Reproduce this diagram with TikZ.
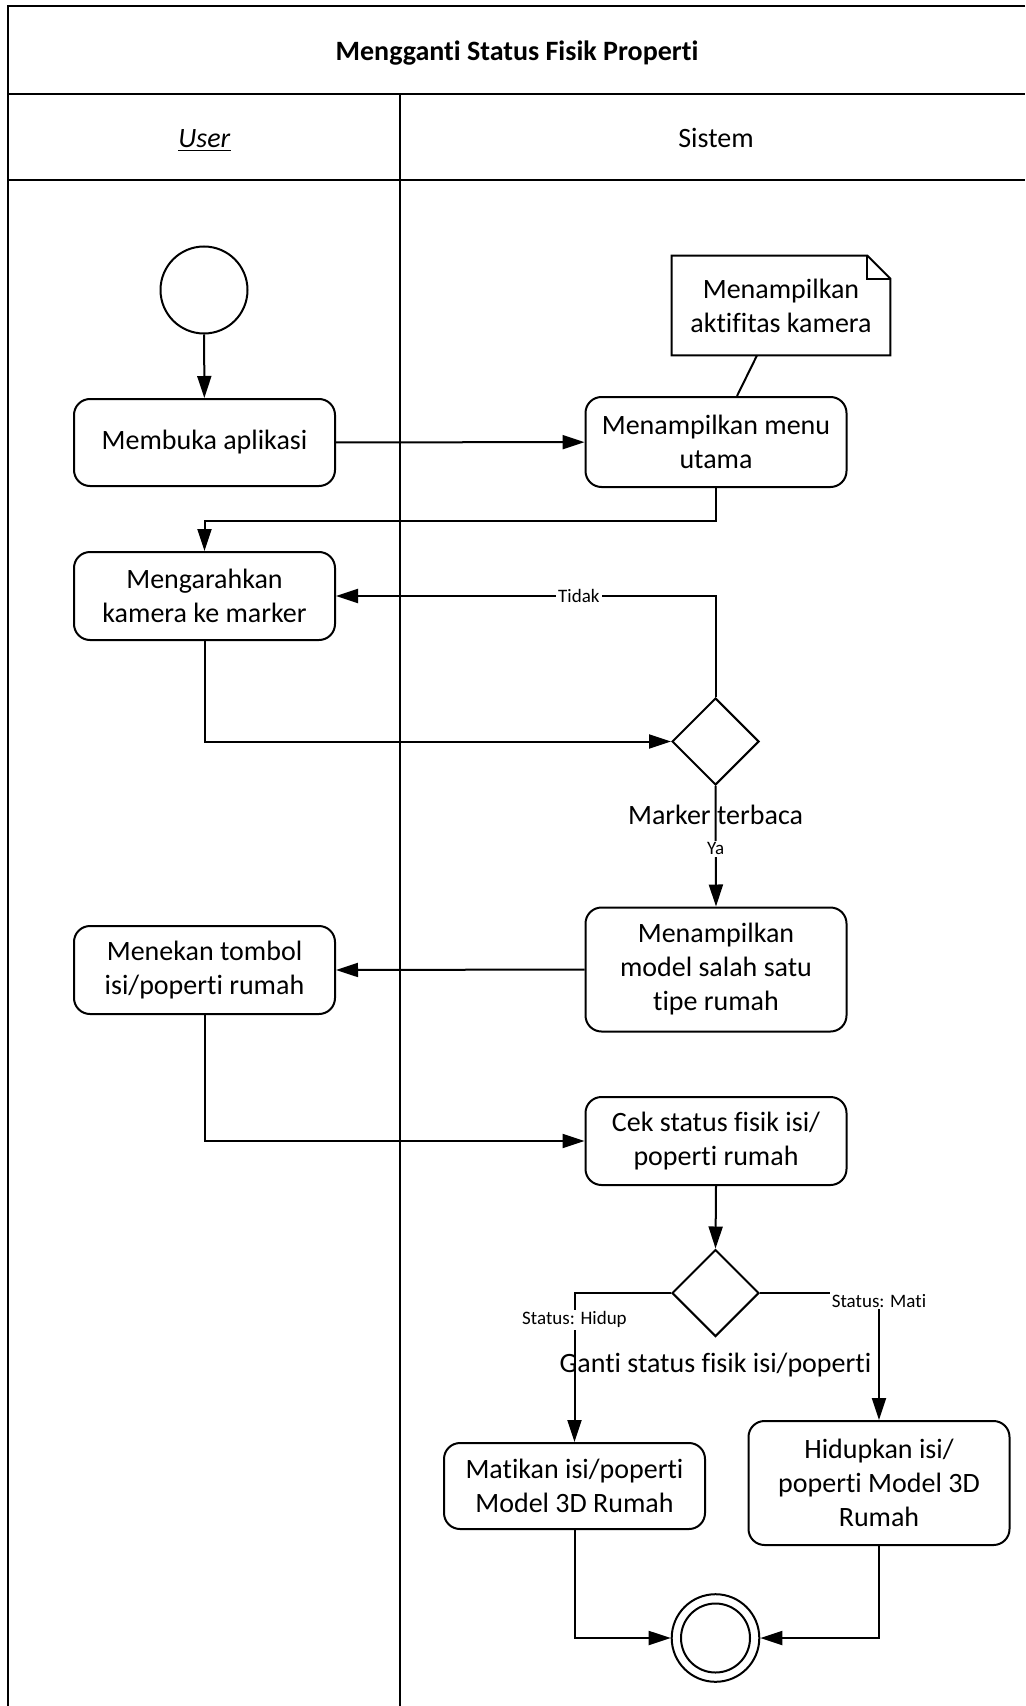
\documentclass[tikz,border=0pt]{standalone}
\usepackage{fontspec}
\setmainfont{Carlito}[Ligatures={NoCommon,NoRequired,NoContextual,NoRare},Contextuals={NoAlternate}]
\usetikzlibrary{shapes.geometric,arrows.meta,calc}

\begin{document}
\begin{tikzpicture}[x=0.5pt,y=-0.5pt,
  every node/.style={font=\fontsize{14pt}{17pt}\selectfont},
  frame/.style={line width=1.4pt},
  act/.style={draw,line width=1pt,rounded corners=8pt,minimum width=130.5pt,
    align=center,inner sep=0pt},
  dec/.style={draw,diamond,aspect=1,line width=1pt,minimum width=43.5pt,
    minimum height=43.5pt,inner sep=0pt},
  startnode/.style={draw,circle,line width=1pt,minimum size=43.5pt,inner sep=0pt},
  endnode/.style={draw,circle,line width=1pt,minimum size=43.8pt,inner sep=0pt},
  flow/.style={line width=1pt,-{Triangle[length=11pt,width=7pt]}},
  link/.style={line width=1pt},
  lbl/.style={font=\fontsize{9.5pt}{11pt}\selectfont,fill=white,inner sep=1pt},
  declbl/.style={font=\fontsize{14pt}{17pt}\selectfont,inner sep=0pt},
]
\useasboundingbox (0,0) rectangle (1025,1706);

% swimlane frame
\draw[frame] (1025,6) -- (8,6) -- (8,1706);
\draw[frame] (8,94) -- (1025,94);
\draw[frame] (8,180) -- (1025,180);
\draw[frame] (400,94) -- (400,1706);

\node[font=\bfseries\fontsize{14pt}{17pt}\selectfont] (title) at (517,53) {Mengganti Status Fisik Properti};
\node (laneuser) at (204.5,141) {\underline{\textit{User}}};
\node (lanesys) at (716,138) {Sistem};

% activities
\node[startnode] (start) at (204,290) {};
\node[act,minimum height=43.5pt] (open) at (204.5,442.5) {Membuka aplikasi};
\node[act,minimum height=45pt] (menu) at (716,442) {Menampilkan menu\\utama};
\node[align=center,minimum width=109pt,minimum height=49.5pt,inner sep=0pt] (note) at (781,305.5) {Menampilkan\\aktifitas kamera};
\node[act,minimum height=44pt] (aim) at (204.5,596) {Mengarahkan\\kamera ke marker};
\node[dec] (dec1) at (715.5,741.5) {};
\node[declbl] (dec1lbl) at (715.5,815) {Marker terbaca};
\node[act,minimum height=62pt] (model) at (716,969.5) {Menampilkan\\model salah satu\\tipe rumah};
\node[act,minimum height=44pt] (press) at (204.5,970) {Menekan tombol\\isi/poperti rumah};
\node[act,minimum height=44pt] (check) at (716,1141) {Cek status fisik isi/\\poperti rumah};
\node[dec] (dec2) at (715.5,1293) {};
\node[declbl] (dec2lbl) at (715.5,1365) {Ganti status fisik isi/poperti};
\node[act,minimum height=43pt] (off) at (574.5,1486) {Matikan isi/poperti\\Model 3D Rumah};
\node[act,minimum height=62pt] (on) at (879,1483) {Hidupkan isi/\\poperti Model 3D\\Rumah};
\node[endnode] (end) at (715.5,1638) {};
\draw[link] (end.center) circle[radius=17.25pt];

% note with folded corner
\draw[link] (note.south west) -- (note.north west) -- ($(note.north east)+(-23,0)$)
  -- ($(note.north east)+(0,23)$) -- (note.south east) -- cycle;
\draw[link] ($(note.north east)+(-23,0)$) -- ($(note.north east)+(-23,23)$) -- ($(note.north east)+(0,23)$);
\draw[link] ($(note.south)+(-24,0)$) -- ($(menu.north)+(21,0)$);

% control flow
\draw[flow] (start) -- (open);
\draw[flow] (open) -- (menu);
\draw[flow] (menu.south) -- ++(0,33) -| (aim.north);
\draw[flow] (aim.south) |- (dec1.west);
\draw[flow] (dec1.north) |- (aim.east) node[lbl,pos=0.68] {Tidak};
\draw[flow] (dec1.south) -- (model.north) node[lbl,pos=0.52] {Ya};
\draw[flow] (model.west) -- (press.east);
\draw[flow] (press.south) |- (check.west);
\draw[flow] (check.south) -- (dec2.north);
\draw[flow] (dec2.west) -| (off.north) node[lbl,pos=0.59] {Status: Hidup};
\draw[flow] (dec2.east) -| (on.north) node[lbl,pos=0.53] {Status: Mati};
\draw[flow] (off.south) |- (end.west);
\draw[flow] (on.south) |- (end.east);
\end{tikzpicture}
\end{document}
